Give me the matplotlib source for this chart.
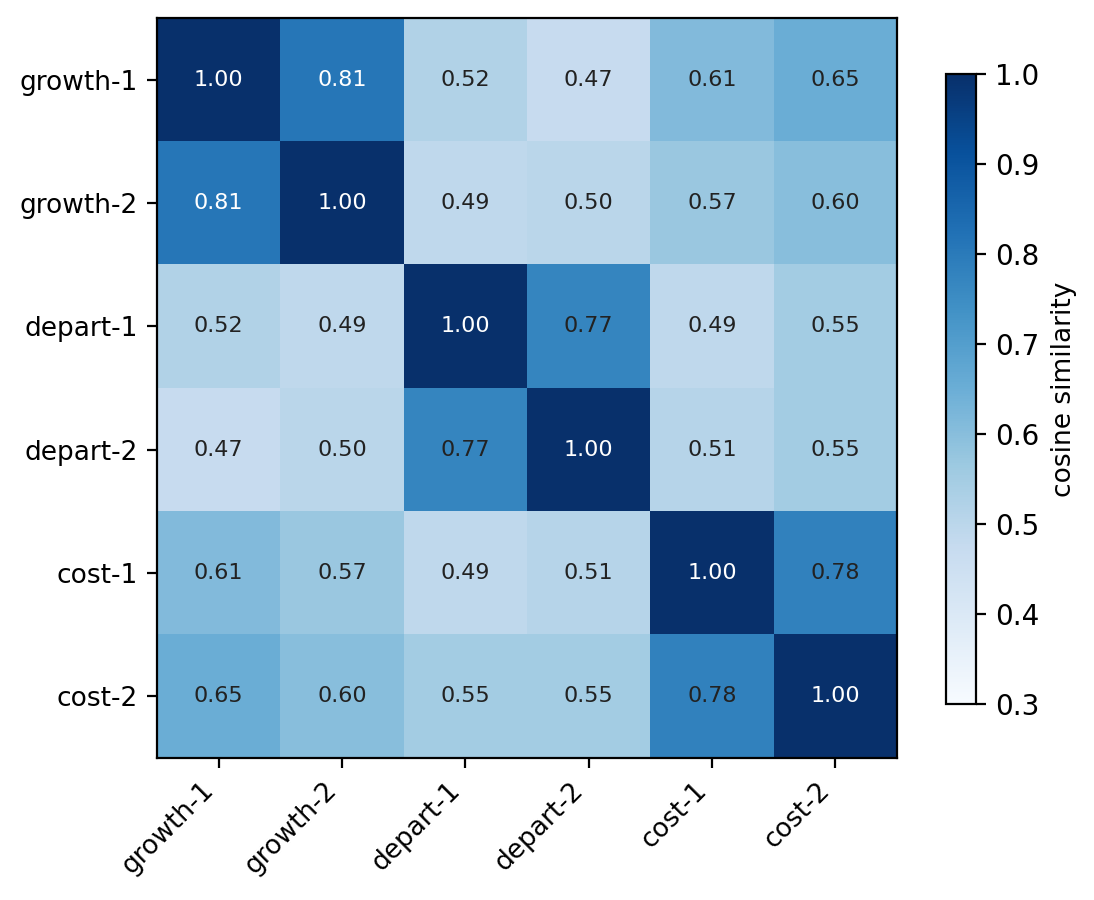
import numpy as np
import matplotlib.pyplot as plt

labels = ['growth-1', 'growth-2', 'depart-1', 'depart-2', 'cost-1', 'cost-2']
sim = np.array([
    [1.00, 0.81, 0.52, 0.47, 0.61, 0.65],
    [0.81, 1.00, 0.49, 0.50, 0.57, 0.60],
    [0.52, 0.49, 1.00, 0.77, 0.49, 0.55],
    [0.47, 0.50, 0.77, 1.00, 0.51, 0.55],
    [0.61, 0.57, 0.49, 0.51, 1.00, 0.78],
    [0.65, 0.60, 0.55, 0.55, 0.78, 1.00],
])

fig = plt.figure(figsize=(5.47, 4.5), dpi=200)
ax = fig.add_axes([0.1435, 0.1578, 0.6764, 0.8222])
cax = fig.add_axes([0.8647, 0.2178, 0.0274, 0.70])

im = ax.imshow(sim, cmap='Blues', vmin=0.3, vmax=1.0)

ax.set_xticks(range(len(labels)))
ax.set_yticks(range(len(labels)))
ax.set_xticklabels(labels, rotation=45, ha='right')
ax.set_yticklabels(labels)
ax.tick_params(labelsize=9.5)

for i in range(len(labels)):
    for j in range(len(labels)):
        v = sim[i, j]
        ax.text(j, i, f'{v:.2f}', ha='center', va='center', fontsize=8,
                color='white' if v > 0.8 else '#222222')

cbar = fig.colorbar(im, cax=cax)
cbar.set_label('cosine similarity', fontsize=9.5)

fig.savefig('out.png', dpi=200)
